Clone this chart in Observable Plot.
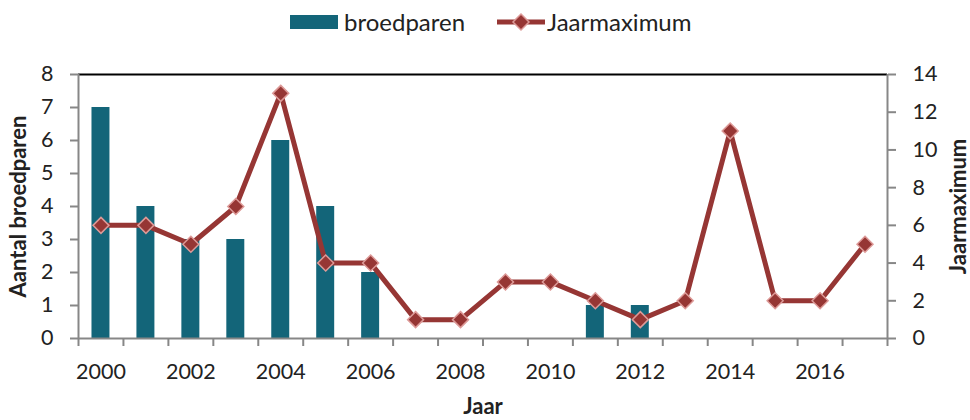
<!DOCTYPE html>
<html>
<head>
<meta charset="utf-8">
<script src="https://cdn.jsdelivr.net/npm/d3@7"></script>
<script src="https://cdn.jsdelivr.net/npm/@observablehq/plot@0.6"></script>
<style>
  body { margin: 0; background: #fff; font-family: Lato, "Open Sans", sans-serif; color: #222; }
  #wrap { width: 970px; }
  #legend { position: relative; width: 970px; height: 44px; font-size: 24px; }
  #legend .item { position: absolute; top: 0; height: 44px; display: flex; align-items: center; }
  #legend .lab { line-height: 1; }
</style>
</head>
<body>
<div id="wrap">
  <div id="legend"></div>
  <div id="chart"></div>
</div>
<script>
const years = [2000,2001,2002,2003,2004,2005,2006,2007,2008,2009,2010,2011,2012,2013,2014,2015,2016,2017];
const broedparen = [7,4,3,3,6,4,2,0,0,0,0,1,1,0,0,0,0,0];
const jaarmaximum = [6,6,5,7,13,4,4,1,1,3,3,2,1,2,11,2,2,5];
const leftTicks = [0,1,2,3,4,5,6,7,8];
const rightTicks = [0,2,4,6,8,10,12,14];
const xLabelYears = [2000,2002,2004,2006,2008,2010,2012,2014,2016];
const seriesNames = ["broedparen", "Jaarmaximum"];

const barColor = "#136579";
const lineColor = "#963634";
const markerStroke = "#dd9a98";
const axisGray = "#878787";
const textColor = "#222";

const leftMax = 8, rightMax = 14;
const toLeft = v => v * leftMax / rightMax;

const data = years.map((y, i) => ({year: y, bp: broedparen[i], jm: jaarmaximum[i]}));
const boundaries = d3.range(years[0] - 0.5, years[years.length - 1] + 1, 1);

// Legend (HTML)
const legend = document.getElementById("legend");
legend.innerHTML = `
  <div class="item" style="left:290px">
    <svg width="48" height="44"><rect x="0" y="15" width="48" height="14" fill="${barColor}"></rect></svg>
    <span class="lab" style="margin-left:6px">${seriesNames[0]}</span>
  </div>
  <div class="item" style="left:497px">
    <svg width="48" height="44">
      <line x1="0" x2="48" y1="22" y2="22" stroke="${lineColor}" stroke-width="5"></line>
      <path d="M24,14L32,22L24,30L16,22Z" fill="${lineColor}" stroke="${markerStroke}" stroke-width="1.5"></path>
    </svg>
    <span class="lab" style="margin-left:2px">${seriesNames[1]}</span>
  </div>`;

const fontSize = 21.5;

const chart = Plot.plot({
  width: 970,
  height: 376,
  marginTop: 30,
  marginBottom: 82,
  marginLeft: 78,
  marginRight: 83,
  style: {fontFamily: "Lato, 'Open Sans', sans-serif", fontSize: fontSize + "px", color: textColor, background: "#fff"},
  x: {type: "linear", domain: [years[0] - 0.5, years[years.length - 1] + 0.5]},
  y: {domain: [0, leftMax]},
  marks: [
    Plot.rectY(data, {x1: d => d.year - 0.2, x2: d => d.year + 0.2, y1: 0, y2: "bp", fill: barColor}),
    // frame
    Plot.ruleY([leftMax], {stroke: "#000", strokeWidth: 2}),
    Plot.ruleY([0], {stroke: axisGray, strokeWidth: 2}),
    Plot.ruleX([years[0] - 0.5, years[years.length - 1] + 0.5], {stroke: axisGray, strokeWidth: 2}),
    // axes
    Plot.axisY(leftTicks, {anchor: "left", tickSize: 8, tickPadding: 17, stroke: axisGray, strokeWidth: 2, fill: textColor, fontSize, label: null}),
    Plot.axisY(rightTicks.map(toLeft), {anchor: "right", tickSize: 8, tickPadding: 17, stroke: axisGray, strokeWidth: 2, fill: textColor, fontSize, tickFormat: d => String(Math.round(d * rightMax / leftMax)), label: null}),
    Plot.axisX(boundaries, {anchor: "bottom", tickSize: 8, stroke: axisGray, strokeWidth: 2, tickFormat: () => "", label: null}),
    Plot.axisX(xLabelYears, {anchor: "bottom", tickSize: 0, tickPadding: 25, fill: textColor, fontSize, tickFormat: d => String(d), label: null}),
    // line series
    Plot.line(data, {x: "year", y: d => toLeft(d.jm), stroke: lineColor, strokeWidth: 5}),
    Plot.dot(data, {x: "year", y: d => toLeft(d.jm), symbol: "diamond2", r: 7.2, fill: lineColor, stroke: markerStroke, strokeWidth: 1.5}),
    // axis titles
    Plot.text(["Jaar"], {frameAnchor: "bottom", dy: 68, lineAnchor: "middle", textAnchor: "middle", fontWeight: "bold", fontSize: 22, fill: textColor}),
    Plot.text(["Aantal broedparen"], {frameAnchor: "left", dx: -60, rotate: -90, textAnchor: "middle", lineAnchor: "middle", fontWeight: "bold", fontSize: 22, fill: textColor}),
    Plot.text(["Jaarmaximum"], {frameAnchor: "right", dx: 71, rotate: -90, textAnchor: "middle", lineAnchor: "middle", fontWeight: "bold", fontSize: 22, fill: textColor})
  ]
});
document.getElementById("chart").appendChild(chart);
</script>
</body>
</html>
